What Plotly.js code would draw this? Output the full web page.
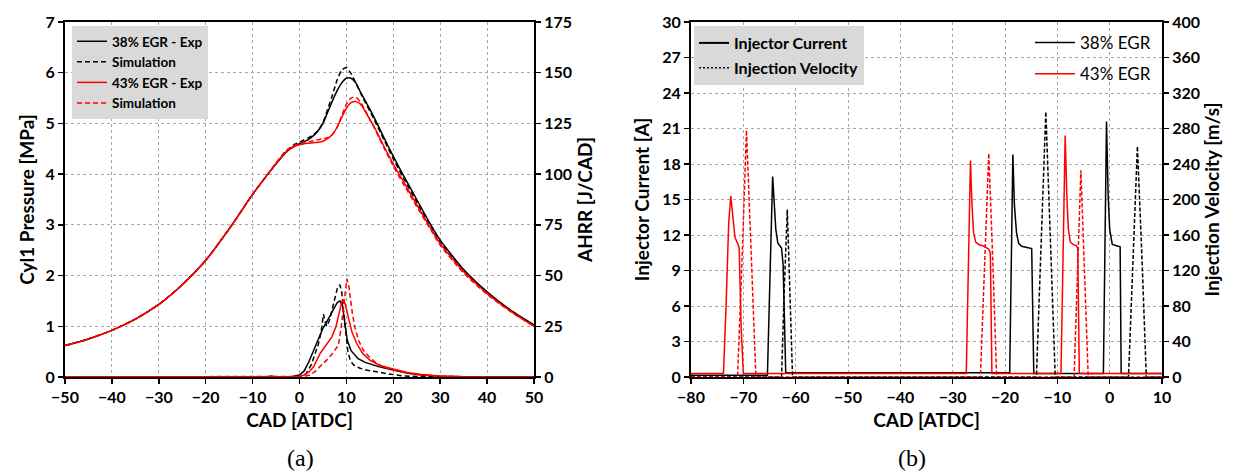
<!DOCTYPE html>
<html>
<head>
<meta charset="utf-8">
<script src="https://cdn.plot.ly/plotly-3.0.1.min.js"></script>
<style>html,body{margin:0;padding:0;background:#fff;}#chart{width:1237px;height:471px;}</style>
</head>
<body>
<div id="chart"></div>
<script>
// ---------- (a) Cylinder pressure [MPa] ----------
const cadP = [-50,-45,-40,-35,-30,-25,-20,-15,-10,-7,-5,-3,-1,0,1,2,3,4,5,6,7,8,9,10,11,12,13,14,15,16,18,20,22,25,28,30,35,40,45,50];
const p38Exp = [0.62,0.75,0.92,1.14,1.43,1.82,2.30,2.92,3.60,3.97,4.20,4.42,4.56,4.60,4.64,4.69,4.76,4.86,5.00,5.22,5.44,5.64,5.80,5.89,5.89,5.80,5.62,5.45,5.28,5.10,4.72,4.35,4.00,3.50,3.00,2.70,2.12,1.68,1.32,1.03];
const p38Sim = [0.62,0.75,0.92,1.14,1.43,1.82,2.30,2.92,3.60,3.97,4.21,4.44,4.59,4.63,4.68,4.72,4.78,4.86,5.02,5.28,5.55,5.85,6.05,6.10,5.98,5.80,5.60,5.42,5.24,5.06,4.68,4.30,3.95,3.45,2.96,2.66,2.10,1.66,1.31,1.02];
const p43Exp = [0.62,0.75,0.92,1.14,1.43,1.82,2.30,2.92,3.60,3.97,4.21,4.43,4.55,4.58,4.60,4.61,4.62,4.63,4.65,4.70,4.78,4.92,5.12,5.30,5.41,5.43,5.38,5.24,5.08,4.92,4.55,4.20,3.88,3.40,2.93,2.63,2.08,1.65,1.30,1.00];
const p43Sim = [0.62,0.75,0.92,1.14,1.43,1.82,2.30,2.92,3.60,3.97,4.22,4.45,4.57,4.60,4.62,4.64,4.66,4.68,4.70,4.72,4.78,4.92,5.15,5.38,5.50,5.52,5.42,5.26,5.08,4.90,4.52,4.16,3.83,3.36,2.90,2.60,2.05,1.63,1.29,1.00];

// ---------- (a) Apparent heat release rate [J/CAD] ----------
const cadH38Exp = [-50,-2,0,1,2,3,4,5,6,7,8,8.6,9.2,9.7,10.2,11,11.5,12.5,14,15,17,20,23,26,30,35,50];
const h38Exp   = [0,0,1,3,7.5,13,19,24,28,32.5,36.5,37.5,35,26,18,13,11.5,9,7.2,6.5,5,3.4,2,1,0.4,0.1,0];
const cadH38Sim = [-50,0,1,1.5,2.5,3.5,4,4.6,5.1,5.5,5.8,6.4,6.9,7.5,8.1,8.6,9,9.3,9.9,10.3,10.8,11.5,12.9,14.5,16.5,19,22,25,50];
const h38Sim   = [0,0,0.8,2,6,12,16,22,31,27,25,28,33,39,44,45.5,42,34.5,20,13,8.3,6,4.3,3.3,2.6,1.5,0.6,0.2,0];
const cadH43Exp = [-50,-7,-6,-5,0,1,2,3,4.4,5.5,6.9,7.8,8.6,9,9.3,9.7,10.4,11.2,12.2,13.5,15,17,20,23,26,30,35,50];
const h43Exp   = [0,0,0.6,0,0.3,1,2.5,5,11.6,15.5,19.8,25,33,37,38,36.5,29.5,22,16.5,11.5,8.3,5.8,3.9,2.2,1.2,0.5,0.1,0];
const cadH43Sim = [-50,0,1,2.2,3.5,4.5,5.8,7,8.3,8.8,9.3,9.7,10.1,10.5,10.8,11.3,11.8,12.6,13.6,15,16.5,18,20,23,26,30,35,50];
const h43Sim   = [0,0,0.3,1,3,5.5,8.3,11.5,15.7,23,34,42.6,48.4,45,39.4,31,24.7,18,13.2,9.5,6.7,4.8,3.4,1.8,1,0.4,0.1,0];

// ---------- (b) Injector current [A] ----------
const cadI38 = [-80,-65.4,-64.4,-64.1,-63.8,-63.4,-62.7,-62.4,-61.9,-19.1,-18.5,-18.2,-17.8,-17.4,-16.8,-14.9,-14.5,-1.2,-0.6,-0.3,0.0,0.5,1.3,2.0,2.2,10];
const cur38  = [0.15,0.15,16.95,14.5,12.5,11.3,10.9,9.5,0.35,0.35,18.8,14.5,12.2,11.3,11.05,10.85,0.3,0.3,21.6,15.5,12.5,11.2,11.1,11.0,0.3,0.3];
const cadI43 = [-80,-73.8,-73.3,-72.8,-72.4,-72.1,-71.6,-71.0,-70.8,-70.4,-70.0,-27.4,-26.6,-26.3,-26.0,-25.6,-25.0,-24.0,-23.1,-22.8,-22.5,-9.3,-8.5,-8.2,-7.9,-7.5,-7.0,-6.4,-6.1,-5.8,10];
const cur43  = [0.3,0.3,6,13,15.3,14,11.8,11.2,10.9,4,0.3,0.3,18.3,14.5,12.2,11.4,11.2,11.05,10.8,10.5,0.3,0.3,20.4,15.5,12.5,11.4,11.2,11.1,10.9,0.3,0.3];

// ---------- (b) Injection velocity [m/s] ----------
const cadV38 = [-80,-62.7,-62.2,-61.6,-61.1,-60.6,-14.0,-13.1,-12.2,-11.3,-10.4,3.6,4.5,5.3,6.2,7.0,10];
const vel38  = [0,0,95,188.7,95,0,0,150,299,150,0,0,130,260,130,0,0];
const cadV43 = [-80,-71.1,-70.2,-69.4,-68.5,-67.6,-24.7,-23.9,-23.1,-22.3,-21.6,-6.8,-6.1,-5.5,-4.8,-4.1,10];
const vel43  = [0,0,140,278,140,0,0,126,252,126,0,0,117,233,117,0,0];

// ---------- legend labels ----------
const legendA = ['38% EGR - Exp','Simulation','43% EGR - Exp','Simulation'];
const legendB = ['Injector Current','Injection Velocity'];
const legendC = ['38% EGR','43% EGR'];

const FONT = 'Lato, "Open Sans", sans-serif';
const RED = '#ff0000', BLK = '#000000';
const DASH = '5px,3px';
const SM = {shape:'spline', smoothing:0.6};

const traces = [
  {x:cadP, y:p38Exp, name:legendA[0], xaxis:'x', yaxis:'y', mode:'lines', line:Object.assign({color:BLK,width:1.5},SM), legend:'legend'},
  {x:cadP, y:p38Sim, name:legendA[1], xaxis:'x', yaxis:'y', mode:'lines', line:Object.assign({color:BLK,width:1.5,dash:DASH},SM), legend:'legend'},
  {x:cadP, y:p43Exp, name:legendA[2], xaxis:'x', yaxis:'y', mode:'lines', line:Object.assign({color:RED,width:1.5},SM), legend:'legend'},
  {x:cadP, y:p43Sim, name:legendA[3], xaxis:'x', yaxis:'y', mode:'lines', line:Object.assign({color:RED,width:1.5,dash:DASH},SM), legend:'legend'},
  {x:cadH38Exp, y:h38Exp, xaxis:'x', yaxis:'y2', mode:'lines', line:{color:BLK,width:1.5}, showlegend:false},
  {x:cadH38Sim, y:h38Sim, xaxis:'x', yaxis:'y2', mode:'lines', line:{color:BLK,width:1.5,dash:DASH}, showlegend:false},
  {x:cadH43Exp, y:h43Exp, xaxis:'x', yaxis:'y2', mode:'lines', line:{color:RED,width:1.5}, showlegend:false},
  {x:cadH43Sim, y:h43Sim, xaxis:'x', yaxis:'y2', mode:'lines', line:{color:RED,width:1.5,dash:DASH}, showlegend:false},
  {x:cadV38, y:vel38, xaxis:'x2', yaxis:'y4', mode:'lines', line:{color:BLK,width:1.5,dash:'4px,2px'}, showlegend:false},
  {x:cadV43, y:vel43, xaxis:'x2', yaxis:'y4', mode:'lines', line:{color:RED,width:1.5,dash:'4px,2px'}, showlegend:false},
  {x:cadI38, y:cur38, name:legendC[0], xaxis:'x2', yaxis:'y3', mode:'lines', line:{color:BLK,width:1.5}, legend:'legend3', legendgroup:'g38'},
  {x:cadI43, y:cur43, name:legendC[1], xaxis:'x2', yaxis:'y3', mode:'lines', line:{color:RED,width:1.5}, legend:'legend3', legendgroup:'g43'},
  {x:[null], y:[null], name:legendB[0], xaxis:'x2', yaxis:'y3', mode:'lines', line:{color:BLK,width:2}, legend:'legend2', legendgroup:'gc'},
  {x:[null], y:[null], name:legendB[1], xaxis:'x2', yaxis:'y3', mode:'lines', line:{color:BLK,width:1.5,dash:'2px,2px'}, legend:'legend2', legendgroup:'gv'}
];

const tickFont = {family:FONT, size:16, color:BLK, weight:'bold'};
const titleFont = {family:FONT, size:19, color:BLK, weight:'bold'};
function ax(extra){
  return Object.assign({
    showline:true, linecolor:BLK, linewidth:2,
    ticks:'outside', ticklen:5, tickwidth:1.5, tickcolor:BLK,
    tickfont:tickFont, zeroline:false, tickangle:0, automargin:false,
    showgrid:true, gridcolor:'#a6a6a6', gridwidth:1, griddash:'dot',
    fixedrange:true
  }, extra);
}

// plot area: x 65..1162 px, y 22..377 px
const PX = px => (px-65)/1097;
const PY = py => (377-py)/355;

const layout = {
  width:1237, height:471,
  margin:{l:65, r:75, t:22, b:94},
  paper_bgcolor:'#ffffff', plot_bgcolor:'#ffffff',
  font:{family:FONT, color:BLK},
  xaxis: ax({domain:[0,0.42753], range:[-50,50], dtick:10, tick0:0, anchor:'y', mirror:true,
             title:{text:'CAD [ATDC]', font:titleFont, standoff:8}}),
  yaxis: ax({domain:[0,1], range:[0,7], dtick:1, anchor:'x',
             title:{text:'Cyl1 Pressure [MPa]', font:titleFont, standoff:6}}),
  yaxis2: ax({overlaying:'y', side:'right', anchor:'x', range:[0,175], dtick:25, showgrid:false,
             title:{text:'AHRR [J/CAD]', font:titleFont, standoff:8}}),
  xaxis2: ax({domain:[0.57065,1], range:[-80,10], dtick:10, tick0:0, anchor:'y3', mirror:true,
             title:{text:'CAD [ATDC]', font:titleFont, standoff:8}}),
  yaxis3: ax({domain:[0,1], range:[0,30], dtick:3, anchor:'x2',
             title:{text:'Injector Current [A]', font:titleFont, standoff:8}}),
  yaxis4: ax({overlaying:'y3', side:'right', anchor:'x2', range:[0,400], dtick:40, showgrid:false,
             title:{text:'Injection Velocity [m/s]', font:titleFont, standoff:6}}),
  legend:{x:PX(72), y:PY(26), xref:'paper', yref:'paper', xanchor:'left', yanchor:'top',
          bgcolor:'#d9d9d9', borderwidth:0, font:{family:FONT, size:13.5, color:BLK, weight:'bold'},
          itemwidth:30, traceorder:'normal'},
  legend2:{x:PX(694), y:PY(26), xref:'paper', yref:'paper', xanchor:'left', yanchor:'top',
          bgcolor:'#d9d9d9', borderwidth:0, font:{family:FONT, size:16, color:BLK, weight:'bold'},
          itemwidth:30, traceorder:'grouped', tracegroupgap:1},
  legend3:{x:PX(1030), y:PY(25), xref:'paper', yref:'paper', xanchor:'left', yanchor:'top',
          bgcolor:'rgba(0,0,0,0)', borderwidth:0, font:{family:FONT, size:17, color:BLK},
          itemwidth:40, traceorder:'grouped', tracegroupgap:6},
  annotations:[
    {text:'(a)', xref:'paper', yref:'paper', x:PX(300), y:PY(458), showarrow:false,
     xanchor:'center', yanchor:'middle', font:{family:'"Liberation Serif", "DejaVu Serif", serif', size:24, color:BLK}},
    {text:'(b)', xref:'paper', yref:'paper', x:PX(912), y:PY(458), showarrow:false,
     xanchor:'center', yanchor:'middle', font:{family:'"Liberation Serif", "DejaVu Serif", serif', size:24, color:BLK}}
  ],
  showlegend:true
};

Plotly.newPlot('chart', traces, layout, {staticPlot:true, displayModeBar:false});
</script>
</body>
</html>
